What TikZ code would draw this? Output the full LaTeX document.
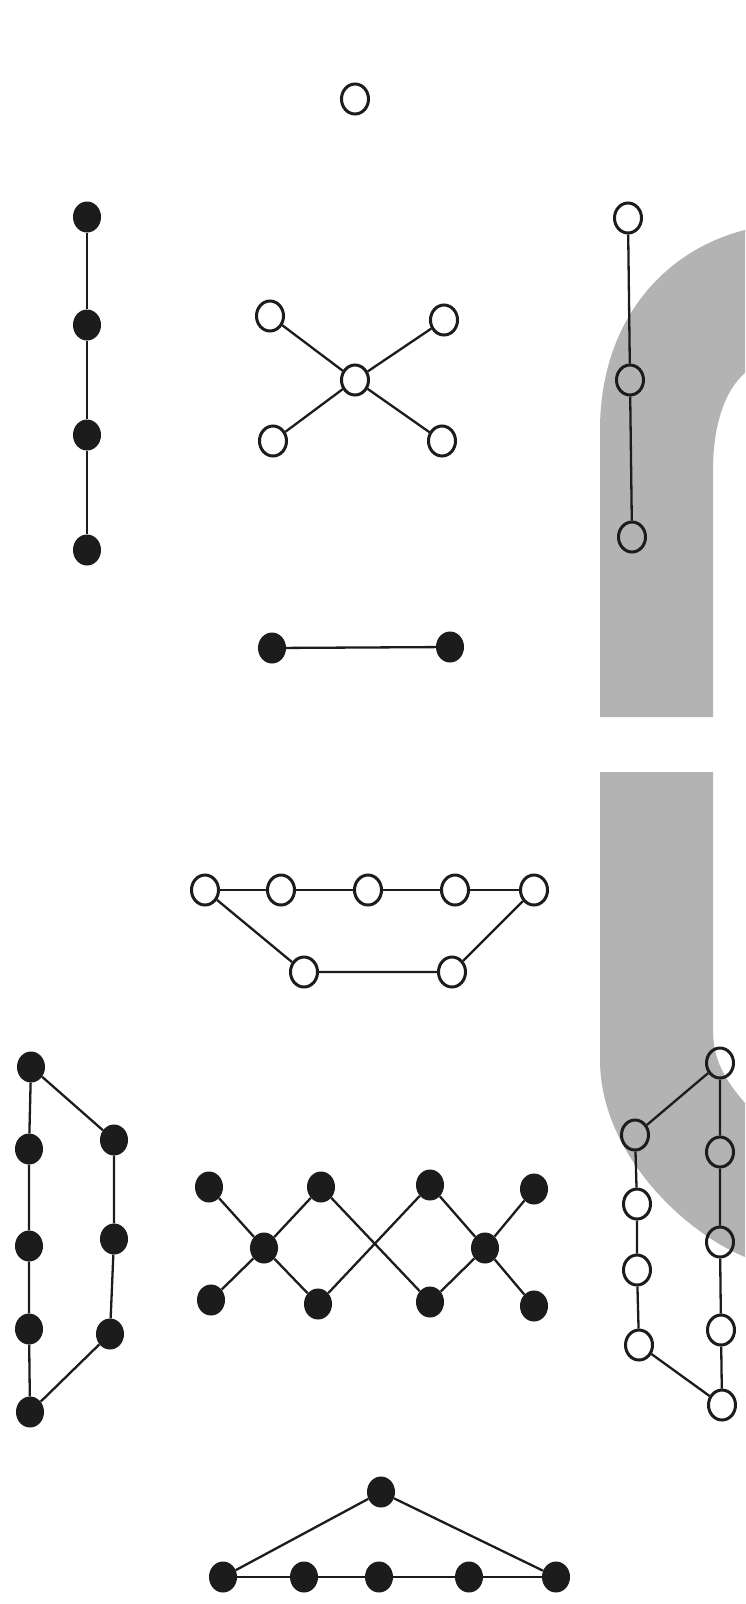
\documentclass[tikz,border=0pt]{standalone}
\usepackage{tikz}
\usetikzlibrary{shapes.geometric}
\usepackage{xcolor}
\definecolor{inkblack}{RGB}{28,28,28}
\definecolor{bandgray}{RGB}{179,179,179}

\begin{document}
\begin{tikzpicture}[
  x=1pt,y=-1pt,
  yang/.style={draw=inkblack,line width=3pt,ellipse,
               minimum width=27pt,minimum height=30pt,inner sep=0pt},
  yin/.style={fill=inkblack,ellipse,
              minimum width=28pt,minimum height=31pt,inner sep=0pt},
  lnk/.style={draw=inkblack,line width=2.3pt},
]
\fill[white] (0,0) rectangle (745,1604);
\useasboundingbox (0,0) rectangle (745,1604);

%% Gray band on the right (upper and lower part)
\fill[bandgray] (745,230) .. controls (665,250) and (600,320) .. (600,430)
  -- (600,717) -- (713,717) -- (713,470)
  .. controls (713,425) and (725,390) .. (745,373) -- cycle;
\fill[bandgray] (600,772) -- (600,1060)
  .. controls (600,1150) and (680,1230) .. (745,1257)
  -- (745,1103) .. controls (725,1080) and (713,1060) .. (713,1030)
  -- (713,772) -- cycle;

%% One (top)
\node[yang] (one) at (355,99) {};

%% Four (left column)
\node[yin] (fa) at (87,217) {};
\node[yin] (fb) at (87,325) {};
\node[yin] (fc) at (87,435) {};
\node[yin] (fd) at (87,550) {};
\draw[lnk] (fa) -- (fb) -- (fc) -- (fd);

%% Five (centre cross)
\node[yang] (fiveC)  at (355,380) {};
\node[yang] (fiveTL) at (270,316) {};
\node[yang] (fiveTR) at (444,320) {};
\node[yang] (fiveBL) at (273,441) {};
\node[yang] (fiveBR) at (442,441) {};
\draw[lnk] (fiveTL) -- (fiveC) -- (fiveBR);
\draw[lnk] (fiveTR) -- (fiveC) -- (fiveBL);

%% Three (right column)
\node[yang] (ta) at (628,218) {};
\node[yang] (tb) at (630,380) {};
\node[yang] (tc) at (632,537) {};
\draw[lnk] (ta) -- (tb) -- (tc);

%% Two (pair)
\node[yin] (twoL) at (272,648) {};
\node[yin] (twoR) at (450,647) {};
\draw[lnk] (twoL) -- (twoR);

%% Seven (trapezoid)
\node[yang] (s1) at (205,890) {};
\node[yang] (s2) at (281,890) {};
\node[yang] (s3) at (368,890) {};
\node[yang] (s4) at (455,890) {};
\node[yang] (s5) at (534,890) {};
\node[yang] (s6) at (304,972) {};
\node[yang] (s7) at (452,972) {};
\draw[lnk] (s1) -- (s2) -- (s3) -- (s4) -- (s5);
\draw[lnk] (s1) -- (s6) -- (s7) -- (s5);

%% Eight (left, bottom)
\node[yin] (e1) at (31,1067) {};
\node[yin] (e2) at (29,1149) {};
\node[yin] (e3) at (29,1246) {};
\node[yin] (e4) at (29,1329) {};
\node[yin] (e5) at (30,1412) {};
\node[yin] (e6) at (114,1140) {};
\node[yin] (e7) at (114,1239) {};
\node[yin] (e8) at (110,1334) {};
\draw[lnk] (e1) -- (e2) -- (e3) -- (e4) -- (e5);
\draw[lnk] (e1) -- (e6) -- (e7) -- (e8) -- (e5);

%% Ten (double cross)
\node[yin] (k1) at (209,1187) {};
\node[yin] (k2) at (321,1187) {};
\node[yin] (k3) at (430,1185) {};
\node[yin] (k4) at (534,1189) {};
\node[yin] (kL) at (264,1248) {};
\node[yin] (kR) at (485,1248) {};
\node[yin] (k5) at (211,1300) {};
\node[yin] (k6) at (318,1304) {};
\node[yin] (k7) at (430,1302) {};
\node[yin] (k8) at (534,1306) {};
\draw[lnk] (k1) -- (kL) -- (k6);
\draw[lnk] (k2) -- (kL) -- (k5);
\draw[lnk] (k2) -- (k7);
\draw[lnk] (k6) -- (k3);
\draw[lnk] (k3) -- (kR) -- (k8);
\draw[lnk] (k4) -- (kR) -- (k7);

%% Nine (right, bottom)
\node[yang] (n1) at (720,1063) {};
\node[yang] (n2) at (720,1152) {};
\node[yang] (n3) at (720,1242) {};
\node[yang] (n4) at (721,1330) {};
\node[yang] (n5) at (722,1405) {};
\node[yang] (n6) at (635,1135) {};
\node[yang] (n7) at (637,1204) {};
\node[yang] (n8) at (637,1270) {};
\node[yang] (n9) at (639,1345) {};
\draw[lnk] (n1) -- (n2) -- (n3) -- (n4) -- (n5);
\draw[lnk] (n1) -- (n6) -- (n7) -- (n8) -- (n9) -- (n5);

%% Six (triangle)
\node[yin] (apex) at (381,1492) {};
\node[yin] (g1) at (223,1577) {};
\node[yin] (g2) at (304,1577) {};
\node[yin] (g3) at (379,1577) {};
\node[yin] (g4) at (469,1577) {};
\node[yin] (g5) at (556,1577) {};
\draw[lnk] (g1) -- (apex) -- (g5);
\draw[lnk] (g1) -- (g2) -- (g3) -- (g4) -- (g5);

\end{tikzpicture}
\end{document}
